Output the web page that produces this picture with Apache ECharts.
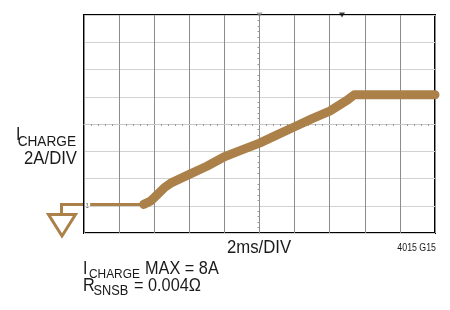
<!DOCTYPE html>
<html><head><meta charset="utf-8">
<script src="https://cdn.jsdelivr.net/npm/echarts@6/dist/echarts.min.js"></script>
<style>html,body{margin:0;padding:0;background:#fff}#c{width:450px;height:310px}</style>
</head><body><div id="c"></div>
<script>
// time in ms (2 ms/div), current in A (2 A/div)
const baseTime = [0.35, 3.5];
const baseCurrent = [0.1, 0.1];
const rampTime = [3.4, 3.8, 4.2, 4.6, 5.0, 6.0, 7.0, 8.0, 9.0, 10.0, 11.0, 12.0, 13.0, 14.0, 15.0, 15.4, 16.0, 18.0, 20.0];
const rampCurrent = [0.1, 0.35, 0.85, 1.35, 1.7, 2.3, 2.9, 3.6, 4.1, 4.6, 5.2, 5.8, 6.4, 6.95, 7.75, 8.15, 8.15, 8.15, 8.15];
const markerTime = [10, 14.7];
const xMin = 0, xMax = 20, xStep = 2;
const yMin = -2, yMax = 14, yStep = 2;

const TRACE = '#ab8149';
const FONT = '"Liberation Sans", Arial, sans-serif';
const NARROW = 0.88;

const chart = echarts.init(document.getElementById('c'), null, {renderer: 'canvas'});
function txt(x, y, s, size, align, color) {
  return {type: 'text', x: x, y: y, scaleX: NARROW, silent: true,
    style: {text: s, fill: color || '#1a1a1a', fontSize: size, fontFamily: FONT,
      align: align || 'left', verticalAlign: 'middle'}};
}
const option = {
  animation: false,
  grid: {left: 84, top: 15, width: 351, height: 218, show: true, borderColor: '#000', borderWidth: 2, backgroundColor: 'transparent'},
  xAxis: [
    {type: 'value', min: xMin, max: xMax, interval: xStep,
      axisLine: {show: false}, axisTick: {show: false}, axisLabel: {show: false},
      splitLine: {show: true, lineStyle: {color: '#8c8c8c', width: 1}}},
    {type: 'value', min: xMin, max: xMax, interval: xStep, position: 'bottom', offset: -109,
      axisLine: {show: true, lineStyle: {color: '#c8c8c8', width: 1}}, axisTick: {show: false},
      minorTick: {show: true, splitNumber: 5, length: 2, lineStyle: {color: '#999'}},
      axisLabel: {show: false}, splitLine: {show: false}}
  ],
  yAxis: [
    {type: 'value', min: yMin, max: yMax, interval: yStep,
      axisLine: {show: false}, axisTick: {show: false}, axisLabel: {show: false},
      splitLine: {show: true, lineStyle: {color: '#d2d2d2', width: 1}}},
    {type: 'value', min: yMin, max: yMax, interval: yStep, position: 'left', offset: -175.5,
      axisLine: {show: true, lineStyle: {color: '#8c8c8c', width: 1}}, axisTick: {show: false},
      minorTick: {show: true, splitNumber: 5, length: 2, lineStyle: {color: '#999'}},
      axisLabel: {show: false}, splitLine: {show: false}}
  ],
  series: [
    {type: 'line', xAxisIndex: 0, yAxisIndex: 0, showSymbol: false, silent: true,
      data: baseTime.map((t, i) => [t, baseCurrent[i]]),
      lineStyle: {color: TRACE, width: 3}},
    {type: 'line', xAxisIndex: 0, yAxisIndex: 0, showSymbol: false, silent: true,
      data: rampTime.map((t, i) => [t, rampCurrent[i]]),
      lineStyle: {color: TRACE, width: 9, join: 'round', cap: 'round'}},
    {type: 'scatter', xAxisIndex: 0, yAxisIndex: 0, silent: true, clip: false,
      symbol: 'triangle', symbolRotate: 180, symbolSize: [6, 5],
      data: [{value: [markerTime[0], yMax], itemStyle: {color: '#888'}},
             {value: [markerTime[1], yMax], itemStyle: {color: '#111'}}]}
  ],
  graphic: [
    // ground reference symbol
    {type: 'polyline', silent: true, shape: {points: [[83, 204.5], [61.5, 204.5], [61.5, 214.5]]},
      style: {stroke: TRACE, lineWidth: 3, fill: null}},
    {type: 'polygon', silent: true, shape: {points: [[48.5, 214.5], [75.5, 214.5], [62, 236]]},
      style: {stroke: TRACE, lineWidth: 3, fill: null}},
    txt(85.5, 206, '1', 7, 'left', '#555'),
    // left axis label
    txt(16, 135.5, 'I', 18),
    txt(76, 141.5, 'CHARGE', 15.5, 'right'),
    txt(77, 158.5, '2A/DIV', 19, 'right'),
    // x axis label
    txt(259, 248, '2ms/DIV', 19, 'center'),
    txt(436, 248, '4015 G15', 10, 'right'),
    // notes
    txt(83, 269, 'I', 18),
    txt(89, 274.5, 'CHARGE', 13.5),
    txt(145, 269, 'MAX = 8A', 18.5),
    txt(83, 286, 'R', 18.5),
    txt(93.5, 290.5, 'SNSB', 14.5),
    txt(134, 286, '= 0.004\u03a9', 18.5)
  ]
};
chart.setOption(option);
</script></body></html>
